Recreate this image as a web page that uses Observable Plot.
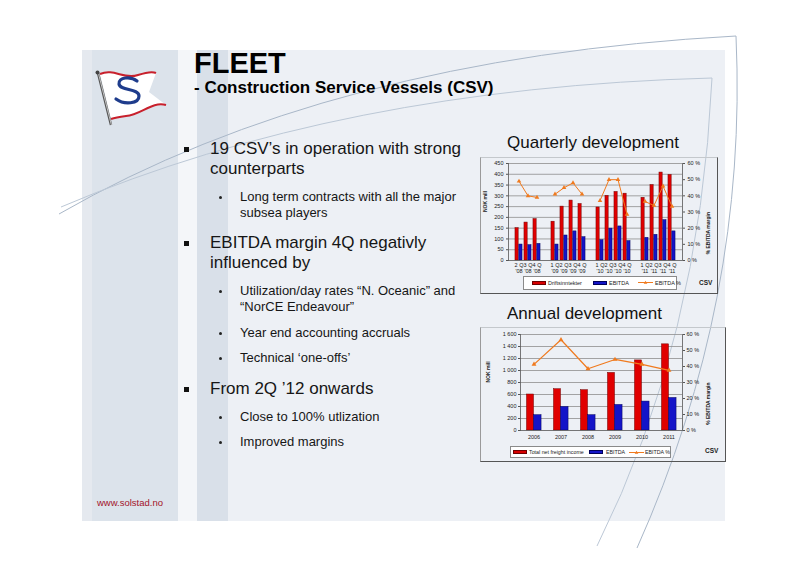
<!DOCTYPE html>
<html><head><meta charset="utf-8">
<script src="https://cdn.jsdelivr.net/npm/d3@7"></script>
<script src="https://cdn.jsdelivr.net/npm/@observablehq/plot@0.6"></script>
<style>
body{margin:0;width:800px;height:566px;overflow:hidden;background:#fff;font-family:Arial,"Liberation Sans",sans-serif;color:#161616;}
#slide{position:relative;width:800px;height:566px;}
.abs{position:absolute;}
.t{position:absolute;white-space:nowrap;line-height:1;}
.b17{font-size:17px;}
.b13{font-size:13px;}
.sq{position:absolute;width:5px;height:5px;background:#111;}
.dot{position:absolute;width:3px;height:3px;border-radius:50%;background:#222;}
.frame{position:absolute;border:1px solid #9a9a9a;border-right:1.5px solid #555;border-bottom:1.5px solid #555;border-top:1px solid #c4c8cc;box-sizing:border-box;}
.leg{position:absolute;background:#fff;border:1px solid #8a8a8a;box-sizing:border-box;}
.lt{position:absolute;font-size:5.5px;line-height:1;white-space:nowrap;color:#222;}
.sw{position:absolute;height:4px;width:14px;box-sizing:border-box;}
.csv{position:absolute;font-size:6.5px;font-weight:bold;line-height:1;color:#222;}
</style></head><body>
<div id="slide">
  <div class="abs" style="left:82px;top:50px;width:643px;height:471px;background:#edf0f5"></div>
  <div class="abs" style="left:82px;top:50px;width:10px;height:471px;background:#e5e9ef"></div>
  <div class="abs" style="left:92px;top:50px;width:86px;height:471px;background:#dce3eb"></div>
  <div class="abs" style="left:178px;top:50px;width:19px;height:471px;background:#f4f6f9"></div>
  <div class="abs" style="left:197px;top:50px;width:31px;height:471px;background:#d9e0e9"></div>

  <svg class="abs" style="left:0;top:0" width="800" height="566">
    <path d="M59,214 Q330,58 736,36 Q748,300 637,548" fill="none" stroke="#a9b7c8" stroke-width="1"/>
    <path d="M61,207 Q340,88 712,78 Q700,340 597,546" fill="none" stroke="#bcc8d6" stroke-width="1"/>
  </svg>

  <svg class="abs" style="left:90px;top:64px" width="85" height="66" viewBox="90 64 85 66">
    <path d="M100,74 C114,68 124,80 138,75 C147,72 152,71 156,73 L149,92 L166,105 C152,101 141,115 126,116 C119,117 114,118 111,119 Z" fill="#fff"/>
    <path d="M100,74 C114,68 124,80 138,75 C147,72 152,71 156,73" fill="none" stroke="#c8202c" stroke-width="2"/>
    <path d="M166,105 C152,101 141,115 126,116 C119,117 114,118 111,119" fill="none" stroke="#c8202c" stroke-width="2"/>
    <path d="M137,81 C131,76 118,77 119,84 C120,91 139,88 139,96 C139,104 124,105 116,99" fill="none" stroke="#1e3c8c" stroke-width="3.2" stroke-linecap="round"/>
    <line x1="98" y1="73" x2="111" y2="125" stroke="#555" stroke-width="2.4"/>
    <line x1="98.6" y1="74" x2="111.4" y2="125" stroke="#ddd" stroke-width="0.8"/>
    <circle cx="97.5" cy="72.5" r="2" fill="#444"/>
  </svg>

  <div class="t" style="left:194px;top:49px;font-size:29px;font-weight:bold;color:#000">FLEET</div>
  <div class="t" style="left:194px;top:79px;font-size:17px;font-weight:bold;color:#000">- Construction Service Vessels (CSV)</div>

  <div class="sq" style="left:184px;top:147px"></div>
  <div class="t b17" style="left:210px;top:140px">19 CSV’s in operation with strong</div>
  <div class="t b17" style="left:210px;top:160px">counterparts</div>
  <div class="dot" style="left:219px;top:196px"></div>
  <div class="t b13" style="left:240px;top:190px">Long term contracts with all the major</div>
  <div class="t b13" style="left:240px;top:206px">subsea players</div>
  <div class="sq" style="left:184px;top:241px"></div>
  <div class="t b17" style="left:210px;top:234px">EBITDA margin 4Q negativly</div>
  <div class="t b17" style="left:210px;top:254px">influenced by</div>
  <div class="dot" style="left:219px;top:290px"></div>
  <div class="t b13" style="left:240px;top:284px">Utilization/day rates “N. Oceanic” and</div>
  <div class="t b13" style="left:240px;top:300px">“NorCE Endeavour”</div>
  <div class="dot" style="left:219px;top:332px"></div>
  <div class="t b13" style="left:240px;top:326px">Year end accounting accruals</div>
  <div class="dot" style="left:219px;top:357px"></div>
  <div class="t b13" style="left:240px;top:351px">Technical ‘one-offs’</div>
  <div class="sq" style="left:184px;top:387px"></div>
  <div class="t b17" style="left:210px;top:380px">From 2Q ’12 onwards</div>
  <div class="dot" style="left:219px;top:416px"></div>
  <div class="t b13" style="left:240px;top:410px">Close to 100% utlization</div>
  <div class="dot" style="left:219px;top:441px"></div>
  <div class="t b13" style="left:240px;top:435px">Improved margins</div>

  <div class="t" style="left:97px;top:498px;font-size:9.5px;color:#a3142a">www.solstad.no</div>

  <div class="t" style="left:507px;top:134px;font-size:17px;color:#111">Quarterly development</div>
  <div class="frame" style="left:480px;top:157px;width:238px;height:137px"></div>
  <div id="c1" class="abs" style="left:481px;top:158px"></div>
  <div class="leg" style="left:523px;top:276px;width:154px;height:14px"></div>
  <div class="sw" style="left:532px;top:281px;background:#d80000;border:0.8px solid #6e0000"></div>
  <div class="lt" style="left:548px;top:280.5px">Driftsinntekter</div>
  <div class="sw" style="left:593px;top:281px;background:#1414c8;border:0.8px solid #00005a"></div>
  <div class="lt" style="left:609px;top:280.5px">EBITDA</div>
  <svg class="abs" style="left:638px;top:279px" width="15" height="7"><line x1="0" y1="3.5" x2="15" y2="3.5" stroke="#f07a1e" stroke-width="1"/><path d="M7.5,1.8 L9.3,4.8 L5.7,4.8 Z" fill="#f07a1e"/></svg>
  <div class="lt" style="left:655px;top:280.5px">EBITDA %</div>
  <div class="csv" style="left:699px;top:280px">CSV</div>

  <div class="t" style="left:507px;top:305px;font-size:17px;color:#111">Annual development</div>
  <div class="frame" style="left:480px;top:327px;width:246px;height:135px"></div>
  <div id="c2" class="abs" style="left:481px;top:328px"></div>
  <div class="leg" style="left:510px;top:446px;width:161px;height:12px"></div>
  <div class="sw" style="left:513px;top:450px;background:#d80000;border:0.8px solid #6e0000"></div>
  <div class="lt" style="left:529px;top:449.5px;font-size:5.3px">Total net freight income</div>
  <div class="sw" style="left:589px;top:450px;background:#1414c8;border:0.8px solid #00005a"></div>
  <div class="lt" style="left:606px;top:449.5px;font-size:5.3px">EBITDA</div>
  <svg class="abs" style="left:629px;top:448.5px" width="15" height="7"><line x1="0" y1="3.5" x2="15" y2="3.5" stroke="#f07a1e" stroke-width="1"/><path d="M7.5,1.8 L9.3,4.8 L5.7,4.8 Z" fill="#f07a1e"/></svg>
  <div class="lt" style="left:645px;top:449.5px;font-size:5.3px">EBITDA %</div>
  <div class="csv" style="left:705px;top:448px">CSV</div>
</div>
<script>
// ---- Quarterly data ----
const quarters = ["2Q '08","3Q '08","4Q '08","1Q '09","2Q '09","3Q '09","4Q '09","1Q '10","2Q '10","3Q '10","4Q '10","1Q '11","2Q '11","3Q '11","4Q '11"];
const driftsinntekter = [150,176,192,180,250,278,262,246,300,318,310,291,350,408,397];
const ebitdaQ = [74,71,77,74,116,135,108,94,148,158,90,105,119,187,135];
const ebitdaPctQ = [49,40,39,41,45,48,41,37,50,50,28.5,36.5,34,46,33.5];
const qTicks = [0,50,100,150,200,250,300,350,400,450];
const pctTicks = [0,10,20,30,40,50,60];

// ---- Annual data ----
const years = ["2006","2007","2008","2009","2010","2011"];
const freightIncome = [600,688,672,960,1168,1436];
const ebitdaA = [255,392,255,426,482,542];
const ebitdaPctA = [41.3,56.7,38.6,44.4,41.3,37.6];
const aTicks = [0,200,400,600,800,1000,1200,1400,1600];

const RED = "#e00000", RED_S = "#700000", BLUE = "#1414c8", BLUE_S = "#00005a", ORANGE = "#f07a1e";
const FONT = "Arial, 'Liberation Sans', sans-serif";

// slots with an empty slot after each year's 4Q
const slots = [];
quarters.forEach((q, i) => { slots.push(q); if (q.startsWith("4Q") && i < quarters.length - 1) slots.push("gap" + i); });
const qData = quarters.map((q, i) => ({slot: q, year: q.slice(-2), rev: driftsinntekter[i], ebitda: ebitdaQ[i], pct: ebitdaPctQ[i]}));

{
  const W = 236, H = 118, ml = 27, mr = 35, mt = 5, mb = 16;
  const bw = (W - ml - mr) / slots.length;
  const yMax = qTicks[qTicks.length - 1];
  const k = yMax / pctTicks[pctTicks.length - 1];
  const chart = Plot.plot({
    width: W, height: H, marginLeft: ml, marginRight: mr, marginTop: mt, marginBottom: mb,
    style: {background: "transparent", fontFamily: FONT, fontSize: "5.5px", color: "#222"},
    x: {domain: slots, padding: 0, axis: null},
    y: {domain: [0, yMax], axis: null},
    marks: [
      Plot.ruleY(qTicks.slice(1), {stroke: "#8e8e8e", strokeWidth: 0.8}),
      Plot.barY(qData, {x: "slot", y: "rev", fill: RED, stroke: RED_S, strokeWidth: 0.5, insetLeft: bw * 0.1, insetRight: bw * 0.5}),
      Plot.barY(qData, {x: "slot", y: "ebitda", fill: BLUE, stroke: BLUE_S, strokeWidth: 0.5, insetLeft: bw * 0.5, insetRight: bw * 0.1}),
      Plot.line(qData, {x: "slot", y: d => d.pct * k, z: "year", stroke: ORANGE, strokeWidth: 1}),
      Plot.dot(qData, {x: "slot", y: d => d.pct * k, symbol: "triangle", r: 1.7, fill: ORANGE, stroke: "none"}),
      Plot.ruleY([0], {stroke: "#555", strokeWidth: 0.8}),
      Plot.frame({anchor: "left", stroke: "#555", strokeWidth: 0.8}),
      Plot.frame({anchor: "right", stroke: "#555", strokeWidth: 0.8}),
      Plot.axisY(qTicks, {anchor: "left", label: null, tickSize: 2, tickPadding: 3, stroke: "#555"}),
      Plot.axisY(pctTicks.map(p => p * k), {anchor: "right", label: null, tickSize: 2, tickPadding: 3, stroke: "#555", tickFormat: d => Math.round(d / k) + " %"}),
      Plot.axisX({label: null, tickSize: 0, tickPadding: 3, lineHeight: 1, tickFormat: d => d.startsWith("gap") ? "" : d.replace("Q ", " Q\n")}),
      Plot.text(["NOK mill"], {frameAnchor: "left", rotate: -90, dx: -23, fontSize: 5, fontWeight: "bold", fill: "#222"}),
      Plot.text(["% EBITDA margin"], {frameAnchor: "right", rotate: -90, dx: 26, fontSize: 5, fontWeight: "bold", fill: "#222"})
    ]
  });
  document.getElementById("c1").appendChild(chart);
}

{
  const aData = years.map((y, i) => ({year: y, rev: freightIncome[i], ebitda: ebitdaA[i], pct: ebitdaPctA[i]}));
  const W = 244, H = 117, ml = 39, mr = 43, mt = 6, mb = 15;
  const bw = (W - ml - mr) / years.length;
  const yMax = aTicks[aTicks.length - 1];
  const k = yMax / pctTicks[pctTicks.length - 1];
  const fmt = d => d3.format(",")(d).replace(/,/g, " ");
  const chart = Plot.plot({
    width: W, height: H, marginLeft: ml, marginRight: mr, marginTop: mt, marginBottom: mb,
    style: {background: "transparent", fontFamily: FONT, fontSize: "5.5px", color: "#222"},
    x: {domain: years, padding: 0, axis: null},
    y: {domain: [0, yMax], axis: null},
    marks: [
      Plot.ruleY(aTicks.slice(1), {stroke: "#8e8e8e", strokeWidth: 0.8}),
      Plot.barY(aData, {x: "year", y: "rev", fill: RED, stroke: RED_S, strokeWidth: 0.5, insetLeft: bw * 0.24, insetRight: bw * 0.5}),
      Plot.barY(aData, {x: "year", y: "ebitda", fill: BLUE, stroke: BLUE_S, strokeWidth: 0.5, insetLeft: bw * 0.5, insetRight: bw * 0.22}),
      Plot.line(aData, {x: "year", y: d => d.pct * k, stroke: ORANGE, strokeWidth: 1.2}),
      Plot.dot(aData, {x: "year", y: d => d.pct * k, symbol: "triangle", r: 1.8, fill: ORANGE, stroke: "none"}),
      Plot.ruleY([0], {stroke: "#555", strokeWidth: 0.8}),
      Plot.frame({anchor: "left", stroke: "#555", strokeWidth: 0.8}),
      Plot.frame({anchor: "right", stroke: "#555", strokeWidth: 0.8}),
      Plot.axisY(aTicks, {anchor: "left", label: null, tickSize: 2, tickPadding: 2, stroke: "#555", tickFormat: fmt}),
      Plot.axisY(pctTicks.map(p => p * k), {anchor: "right", label: null, tickSize: 2, tickPadding: 2, stroke: "#555", tickFormat: d => Math.round(d / k) + " %"}),
      Plot.axisX({label: null, tickSize: 0, tickPadding: 5}),
      Plot.text(["NOK mill"], {frameAnchor: "left", rotate: -90, dx: -32, fontSize: 5, fontWeight: "bold", fill: "#222"}),
      Plot.text(["% EBITDA margin"], {frameAnchor: "right", rotate: -90, dx: 26, fontSize: 5, fontWeight: "bold", fill: "#222"})
    ]
  });
  document.getElementById("c2").appendChild(chart);
}
</script>
</body></html>
